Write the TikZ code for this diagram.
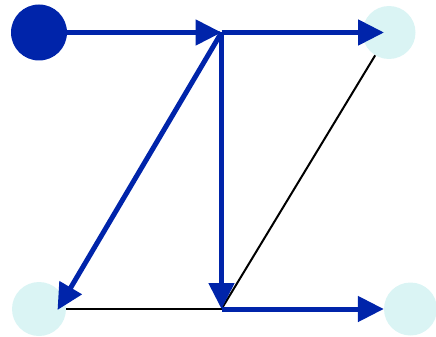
\documentclass[tikz,border=0pt]{standalone}
\usetikzlibrary{arrows.meta}
\definecolor{flowblue}{RGB}{0,36,170}
\definecolor{paleteal}{RGB}{218,244,244}
\tikzset{
  spot/.style={circle,inner sep=0pt,draw=none},
  flow/.style={line width=5pt,color=flowblue,-{Triangle[length=26pt,width=25pt]}},
  link/.style={line width=2pt,color=black}
}
\begin{document}
\begin{tikzpicture}[x=1pt,y=1pt,yscale=-1,xscale=1]
\useasboundingbox (0,0) rectangle (436,337);

% circles
\node [spot,fill=flowblue,minimum size=56pt] (src) at (39,32.5) {};
\node [spot,fill=paleteal,minimum size=53pt] (tr) at (389,32.5) {};
\node [spot,fill=paleteal,minimum size=54pt] (bl) at (39,309) {};
\node [spot,fill=paleteal,minimum size=53pt] (br) at (410.5,309) {};

% junctions
\coordinate (tj) at (221.5,32.5);
\coordinate (bj) at (221.5,309);

% black links
\draw [link] (bl) -- (bj);
\draw [link] (bj) -- (tr);

% blue flows
\draw [flow] (src) -- (tj);
\draw [flow] (tj) -- ([xshift=-5pt]tr.center);
\draw [flow] (tj) -- (bj);
\draw [flow] (tj) -- ([shift={(18.5,1)}]bl.center);
\draw [flow] (bj) -- (br);

\end{tikzpicture}
\end{document}
